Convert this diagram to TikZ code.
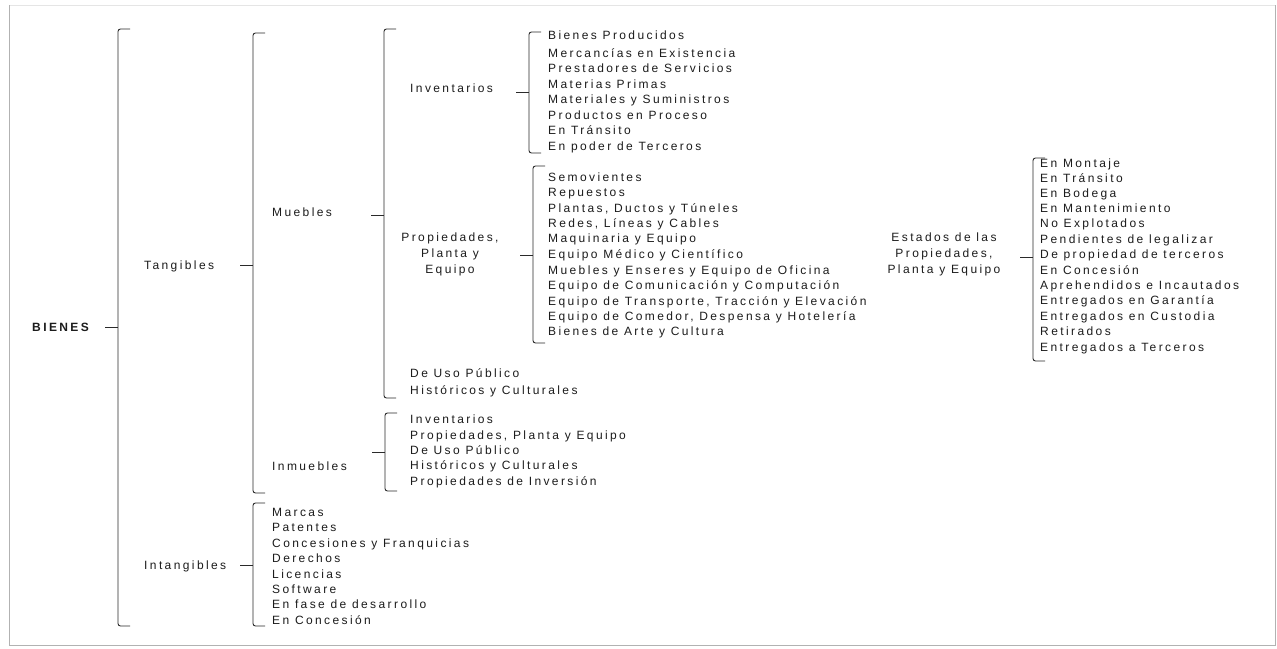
\documentclass[tikz,border=0pt]{standalone}
\usepackage{fontspec}
\setmainfont[LetterSpace=20]{Liberation Sans}
\definecolor{ink}{HTML}{1C1C1C}
\definecolor{ln}{HTML}{2A2A2A}
\newcommand\bkt[5]{%
  \coordinate (#1t) at (#2,#3);
  \coordinate (#1b) at (#2,#4);
  \coordinate (#1m) at (#2,#5);
  \draw[brk] ([xshift=12pt]#1t) -- (#1t) -- (#1b) -- ([xshift=12pt]#1b);
  \draw[brk] ([xshift=-13pt]#1m) -- (#1m);}
\tikzset{
  it/.style={anchor=west, inner sep=0pt, text height=8pt, text depth=0pt, text=ink,
    font=\fontsize{12}{15.5}\selectfont},
  lbl/.style={inner sep=0pt, align=center, text=ink, font=\fontsize{12}{16}\selectfont},
  brk/.style={draw=ln, line width=0.9pt, rounded corners=2.5pt},
}
\begin{document}
\begin{tikzpicture}[x=1pt,y=-1pt]
\useasboundingbox (0,0) rectangle (1277,648);
\fill[white] (0,0) rectangle (1277,648);
% frame
\draw[gray!20, line width=0.8pt] (9,5) -- (1275,5);
\draw[gray!60, line width=1pt] (9,5) -- (9,645) -- (1275,645) -- (1275,5);

% top levels
\node[it, font=\fontsize{12}{15.5}\bfseries] (bienes) at (32,327) {BIENES};
\node[it] (tang) at (144,265) {Tangibles};
\node[it] (intang) at (144,565) {Intangibles};
\node[it] (muebles) at (272,212) {Muebles};
\node[it] (inmuebles) at (272,466) {Inmuebles};
\node[it] (inv) at (410,88) {Inventarios};
\node[lbl] (ppe) at (450,254) {Propiedades,\\Planta y\\Equipo};
\node[it] (dup) at (410,373) {De Uso Público};
\node[it] (hyc) at (410,390) {Históricos y Culturales};
\node[lbl] (est) at (944,254) {Estados de las\\Propiedades,\\Planta y Equipo};

% brackets
\bkt{b1}{118}{29}{626}{327}
\bkt{b2}{253}{33}{493}{265}
\bkt{b3}{253}{503}{626}{565}
\bkt{b4}{384}{29}{398}{215}
\bkt{b5}{385}{413}{491}{452}
\bkt{b6}{529}{32}{153}{92}
\bkt{b7}{533}{166}{343}{255}
\bkt{b8}{1033}{158}{361}{257}

% lists
\foreach \yy/\lab [count=\i] in {35/Bienes Producidos, 53/Mercancías en Existencia,
  68/Prestadores de Servicios, 84/Materias Primas, 99/Materiales y Suministros,
  115/Productos en Proceso, 130/En Tránsito, 146/En poder de Terceros}
  \node[it] (invi\i) at (548,\yy) {\lab};

\foreach \yy/\lab [count=\i] in {177/Semovientes, 192/Repuestos, 208/{Plantas, Ductos y Túneles},
  223/{Redes, Líneas y Cables}, 238/Maquinaria y Equipo, 254/Equipo Médico y Científico,
  270/Muebles y Enseres y Equipo de Oficina, 285/Equipo de Comunicación y Computación,
  301/{Equipo de Transporte, Tracción y Elevación}, 316/{Equipo de Comedor, Despensa y Hotelería},
  331/Bienes de Arte y Cultura}
  \node[it] (ppei\i) at (548,\yy) {\lab};

\foreach \yy/\lab [count=\i] in {419/Inventarios, 435/{Propiedades, Planta y Equipo},
  450/De Uso Público, 465/Históricos y Culturales, 481/Propiedades de Inversión}
  \node[it] (inmi\i) at (410,\yy) {\lab};

\foreach \yy/\lab [count=\i] in {512/Marcas, 527/Patentes, 543/Concesiones y Franquicias,
  558/Derechos, 574/Licencias, 589/Software, 604/En fase de desarrollo, 620/En Concesión}
  \node[it] (inti\i) at (272,\yy) {\lab};

\foreach \yy/\lab [count=\i] in {163/En Montaje, 178/En Tránsito, 193/En Bodega,
  208/En Mantenimiento, 223/No Explotados, 239/Pendientes de legalizar,
  254/De propiedad de terceros, 270/En Concesión, 285/Aprehendidos e Incautados,
  300/Entregados en Garantía, 316/Entregados en Custodia, 331/Retirados,
  347/Entregados a Terceros}
  \node[it] (esti\i) at (1040,\yy) {\lab};
\end{tikzpicture}
\end{document}
